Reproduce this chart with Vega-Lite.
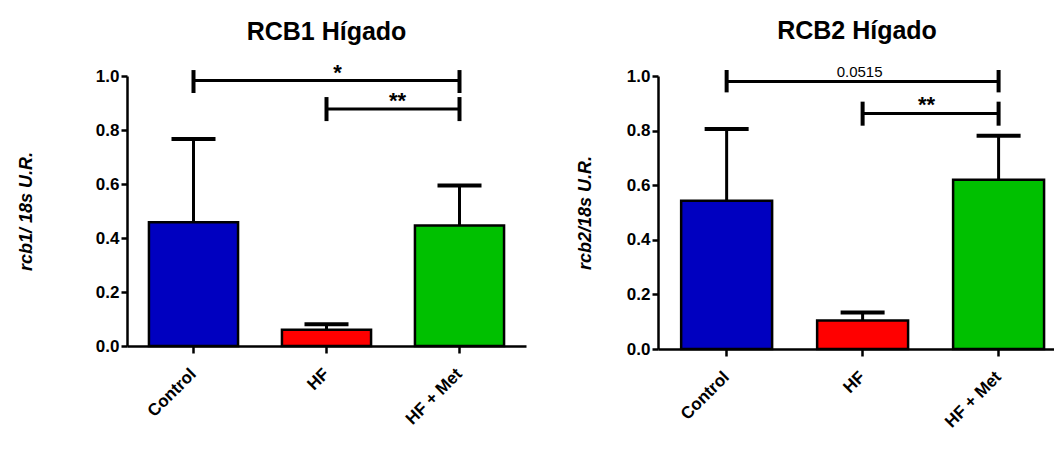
{
  "$schema": "https://vega.github.io/schema/vega-lite/v6.json",
  "padding": {"left": 17, "top": 19, "right": 0, "bottom": 0},
  "background": "white",
  "datasets": {
    "rcb1": [
      {"g": "Control", "mean": 0.458, "upper": 0.767},
      {"g": "HF", "mean": 0.06, "upper": 0.081},
      {"g": "HF + Met", "mean": 0.446, "upper": 0.594}
    ],
    "rcb2": [
      {"g": "Control", "mean": 0.543, "upper": 0.806},
      {"g": "HF", "mean": 0.104, "upper": 0.134},
      {"g": "HF + Met", "mean": 0.62, "upper": 0.781}
    ],
    "sig1": [
      {"from": "Control", "to": "HF + Met", "mid": "HF", "y": 0.983, "lo": 0.937, "hi": 1.022, "label": "*"},
      {"from": "HF", "to": "HF + Met", "mid": "HF + Met", "y": 0.878, "lo": 0.833, "hi": 0.922, "label": "**"}
    ],
    "sig2": [
      {"from": "Control", "to": "HF + Met", "mid": "HF", "y": 0.98, "lo": 0.94, "hi": 1.022, "label": "0.0515"},
      {"from": "HF", "to": "HF + Met", "mid": "HF + Met", "y": 0.863, "lo": 0.818, "hi": 0.906, "label": "**"}
    ]
  },
  "config": {
    "font": "Liberation Sans",
    "view": {"stroke": null},
    "axis": {
      "domainColor": "black", "domainWidth": 2.5, "tickColor": "black", "tickWidth": 2.5,
      "labelColor": "black", "labelFont": "Liberation Sans", "labelFontWeight": "bold", "labelFontSize": 17,
      "grid": false, "titleColor": "black", "titleFont": "Liberation Sans"
    },
    "title": {"fontSize": 25, "fontWeight": "bold", "color": "black", "anchor": "middle", "font": "Liberation Sans"}
  },
  "spacing": 50,
  "hconcat": [
    {
      "width": 399, "height": 270,
      "title": {"text": "RCB1 Hígado", "offset": 17},
      "layer": [
        {
          "data": {"name": "rcb1"},
          "mark": {"type": "bar", "stroke": "black", "strokeWidth": 2.5},
          "encoding": {
            "x": {"field": "g", "type": "nominal", "scale": {"domain": ["Control", "HF", "HF + Met"], "paddingInner": 0.33, "paddingOuter": 0.165},
              "axis": {"title": null, "labelAngle": -45, "labelAlign": "right", "labelBaseline": "middle", "labelPadding": 18, "tickSize": 7, "labelFontSize": 17}},
            "y": {"field": "mean", "type": "quantitative", "scale": {"domain": [0, 1], "nice": false},
              "axis": {"title": "rcb1/ 18s U.R.", "titleFontStyle": "italic", "titleFontWeight": "bold", "titleFontSize": 18, "titlePadding": 60, "values": [0, 0.2, 0.4, 0.6, 0.8, 1], "format": ".1f", "tickSize": 6, "labelPadding": 2}},
            "fill": {"field": "g", "type": "nominal", "scale": {"domain": ["Control", "HF", "HF + Met"], "range": ["#0000C0", "#FF0000", "#00C000"]}, "legend": null}
          }
        },
        {
          "data": {"name": "rcb1"},
          "mark": {"type": "rule", "strokeWidth": 3, "color": "black"},
          "encoding": {"x": {"field": "g", "type": "nominal"}, "y": {"field": "mean", "type": "quantitative"}, "y2": {"field": "upper"}}
        },
        {
          "data": {"name": "rcb1"},
          "mark": {"type": "tick", "color": "black", "opacity": 1, "thickness": 4, "size": 44, "orient": "horizontal"},
          "encoding": {"x": {"field": "g", "type": "nominal"}, "y": {"field": "upper", "type": "quantitative"}}
        },
        {
          "data": {"name": "sig1"},
          "mark": {"type": "rule", "strokeWidth": 3, "color": "black"},
          "encoding": {"x": {"field": "from", "type": "nominal"}, "x2": {"field": "to"}, "y": {"field": "y", "type": "quantitative"}}
        },
        {
          "data": {"name": "sig1"},
          "mark": {"type": "rule", "strokeWidth": 4, "color": "black"},
          "encoding": {"x": {"field": "from", "type": "nominal"}, "y": {"field": "lo", "type": "quantitative"}, "y2": {"field": "hi"}}
        },
        {
          "data": {"name": "sig1"},
          "mark": {"type": "rule", "strokeWidth": 4, "color": "black"},
          "encoding": {"x": {"field": "to", "type": "nominal"}, "y": {"field": "lo", "type": "quantitative"}, "y2": {"field": "hi"}}
        },
        {
          "data": {"name": "sig1"},
          "transform": [{"filter": "datum.label === '*'"}],
          "mark": {"type": "text", "fontSize": 22, "fontWeight": "bold", "dx": 11, "dy": -1, "baseline": "alphabetic", "color": "black"},
          "encoding": {"x": {"field": "mid", "type": "nominal"}, "y": {"field": "y", "type": "quantitative"}, "text": {"field": "label"}}
        },
        {
          "data": {"name": "sig1"},
          "transform": [{"filter": "datum.label === '**'"}],
          "mark": {"type": "text", "fontSize": 22, "fontWeight": "bold", "dx": -62, "dy": -1, "baseline": "alphabetic", "color": "black"},
          "encoding": {"x": {"field": "mid", "type": "nominal"}, "y": {"field": "y", "type": "quantitative"}, "text": {"field": "label"}}
        }
      ]
    },
    {
      "width": 398, "height": 273,
      "title": {"text": "RCB2 Hígado", "offset": 21},
      "layer": [
        {
          "data": {"name": "rcb2"},
          "mark": {"type": "bar", "stroke": "black", "strokeWidth": 2.5},
          "encoding": {
            "x": {"field": "g", "type": "nominal", "scale": {"domain": ["Control", "HF", "HF + Met"], "paddingInner": 0.331, "paddingOuter": 0.129, "align": 0.66},
              "axis": {"title": null, "labelAngle": -45, "labelAlign": "right", "labelBaseline": "middle", "labelPadding": 18, "tickSize": 7, "labelFontSize": 17}},
            "y": {"field": "mean", "type": "quantitative", "scale": {"domain": [0, 1], "nice": false},
              "axis": {"title": "rcb2/18s U.R.", "titleFontStyle": "italic", "titleFontWeight": "bold", "titleFontSize": 18, "titlePadding": 32, "values": [0, 0.2, 0.4, 0.6, 0.8, 1], "format": ".1f", "tickSize": 6, "labelPadding": 2}},
            "fill": {"field": "g", "type": "nominal", "scale": {"domain": ["Control", "HF", "HF + Met"], "range": ["#0000C0", "#FF0000", "#00C000"]}, "legend": null}
          }
        },
        {
          "data": {"name": "rcb2"},
          "mark": {"type": "rule", "strokeWidth": 3, "color": "black"},
          "encoding": {"x": {"field": "g", "type": "nominal"}, "y": {"field": "mean", "type": "quantitative"}, "y2": {"field": "upper"}}
        },
        {
          "data": {"name": "rcb2"},
          "mark": {"type": "tick", "color": "black", "opacity": 1, "thickness": 4, "size": 44, "orient": "horizontal"},
          "encoding": {"x": {"field": "g", "type": "nominal"}, "y": {"field": "upper", "type": "quantitative"}}
        },
        {
          "data": {"name": "sig2"},
          "mark": {"type": "rule", "strokeWidth": 3, "color": "black"},
          "encoding": {"x": {"field": "from", "type": "nominal"}, "x2": {"field": "to"}, "y": {"field": "y", "type": "quantitative"}}
        },
        {
          "data": {"name": "sig2"},
          "mark": {"type": "rule", "strokeWidth": 4, "color": "black"},
          "encoding": {"x": {"field": "from", "type": "nominal"}, "y": {"field": "lo", "type": "quantitative"}, "y2": {"field": "hi"}}
        },
        {
          "data": {"name": "sig2"},
          "mark": {"type": "rule", "strokeWidth": 4, "color": "black"},
          "encoding": {"x": {"field": "to", "type": "nominal"}, "y": {"field": "lo", "type": "quantitative"}, "y2": {"field": "hi"}}
        },
        {
          "data": {"name": "sig2"},
          "transform": [{"filter": "datum.label === '0.0515'"}],
          "mark": {"type": "text", "fontSize": 15, "fontWeight": "normal", "dx": -3, "dy": -4, "baseline": "alphabetic", "color": "black"},
          "encoding": {"x": {"field": "mid", "type": "nominal"}, "y": {"field": "y", "type": "quantitative"}, "text": {"field": "label"}}
        },
        {
          "data": {"name": "sig2"},
          "transform": [{"filter": "datum.label === '**'"}],
          "mark": {"type": "text", "fontSize": 22, "fontWeight": "bold", "dx": -72, "dy": -1, "baseline": "alphabetic", "color": "black"},
          "encoding": {"x": {"field": "mid", "type": "nominal"}, "y": {"field": "y", "type": "quantitative"}, "text": {"field": "label"}}
        }
      ]
    }
  ]
}
